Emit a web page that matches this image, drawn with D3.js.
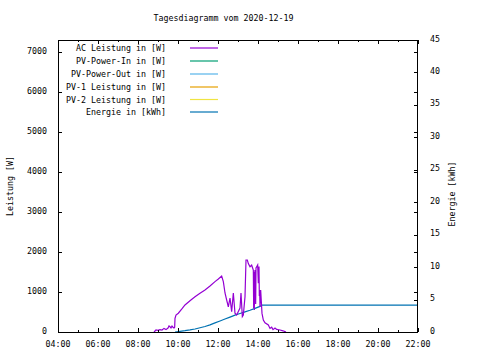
<!DOCTYPE html>
<html><head><meta charset="utf-8">
<script src="https://cdn.jsdelivr.net/npm/d3@7"></script>
<style>
html,body{margin:0;padding:0;background:#fff;}
svg{display:block;}
text{font-family:"DejaVu Sans Mono","Liberation Mono",monospace;font-size:8.3px;fill:#000;}
</style></head><body>
<svg id="chart" width="480" height="360"></svg>
<script>
const title = "Tagesdiagramm vom 2020-12-19";
const day = "2020-12-19";
const xTickLabels = ["04:00","06:00","08:00","10:00","12:00","14:00","16:00","18:00","20:00","22:00"];
const yTicksLeft = [0,1000,2000,3000,4000,5000,6000,7000];
const yTicksRight = [0,5,10,15,20,25,30,35,40,45];
const legendNames = ["AC Leistung in [W]","PV-Power-In in [W]","PV-Power-Out in [W]","PV-1 Leistung in [W]","PV-2 Leistung in [W]","Energie in [kWh]"];
const seriesColors = ["#9400d3","#009e73","#56b4e9","#e69f00","#f0e442","#0072b2"];

const acTimes = ["08:48","08:51","08:54","09:00","09:06","09:12","09:18","09:24","09:30","09:33","09:36","09:39","09:42","09:45","09:48","09:50","09:51","09:54","10:01","10:11","10:21","10:36","10:51","11:06","11:21","11:36","11:51","12:01","12:11","12:16","12:21","12:26","12:31","12:36","12:41","12:46","12:51","12:56","13:01","13:06","13:09","13:13","13:16","13:21","13:24","13:28","13:31","13:36","13:41","13:46","13:47","13:48","13:49","13:50","13:51","13:53","13:54","13:56","13:59","14:01","14:03","14:04","14:05","14:06","14:08","14:12","14:16","14:21","14:31","14:36","14:41","14:45","14:51","14:56","15:06","15:15","15:21","15:24"];
const acValues = [0,25,50,40,60,50,90,60,100,150,130,100,150,120,100,120,340,425,470,570,675,780,880,970,1050,1150,1260,1325,1400,1260,975,800,630,850,510,975,470,425,510,600,975,385,425,880,1800,1800,1710,1630,1670,1550,600,1500,550,1450,1550,700,1600,1630,1675,1220,1640,900,1050,630,1050,465,300,230,175,90,120,60,100,65,50,30,10,0];

const pvInTimes = ["08:48","15:24"];
const pvInValues = [0,0];
const pvOutTimes = ["08:48","15:24"];
const pvOutValues = [0,0];
const pv1Times = ["08:48","15:24"];
const pv1Values = [0,0];
const pv2Times = ["08:48","15:24"];
const pv2Values = [0,0];

const energyTimes = ["09:51","10:06","10:21","10:36","10:51","11:06","11:21","11:36","11:51","12:06","12:21","12:36","12:51","13:06","13:21","13:36","13:51","14:06","14:11","22:00"];
const energyValues = [0,0.1,0.2,0.32,0.46,0.65,0.85,1.1,1.4,1.7,2.0,2.3,2.6,2.85,3.1,3.35,3.65,3.95,4.15,4.15];

const parse = d3.timeParse("%Y-%m-%d %H:%M");
const toDate = s => parse(day + " " + s);

const svg = d3.select("#chart");
const L = 58, R = 418, T = 40, B = 332;

const x = d3.scaleTime().domain([toDate("04:00"), toDate("22:00")]).range([L, R]);
const yL = d3.scaleLinear().domain([0, 7300]).range([B, T]);
const yR = d3.scaleLinear().domain([0, 45]).range([B, T]);

// title
svg.append("text").attr("x", 223.5).attr("y", 21).attr("text-anchor", "middle").text(title);

// series
const mk = (times, vals) => times.map((t, i) => ({t: toDate(t), v: vals[i]}));
const lineL = d3.line().x(d => x(d.t)).y(d => yL(d.v));
const lineR = d3.line().x(d => x(d.t)).y(d => yR(d.v));
const plot = svg.append("g");
const leftSeries = [[pvInTimes,pvInValues,1],[pvOutTimes,pvOutValues,2],[pv1Times,pv1Values,3],[pv2Times,pv2Values,4]];
leftSeries.forEach(([ts, vs, ci]) => {
  plot.append("path").datum(mk(ts, vs)).attr("d", lineL).attr("fill","none")
    .attr("stroke", seriesColors[ci]).attr("stroke-width",1).attr("shape-rendering","crispEdges");
});
plot.append("path").datum(mk(energyTimes, energyValues)).attr("d", lineR).attr("fill","none")
  .attr("stroke", seriesColors[5]).attr("stroke-width",1.2);
plot.append("path").datum(mk(acTimes, acValues)).attr("d", lineL).attr("fill","none")
  .attr("stroke", seriesColors[0]).attr("stroke-width",1.2);

// frame
svg.append("rect").attr("x", L+0.5).attr("y", T+0.5).attr("width", R-L-1).attr("height", B-T)
  .attr("fill","none").attr("stroke","#000").attr("stroke-width",1).attr("shape-rendering","crispEdges");

const ax = svg.append("g").attr("stroke","#000").attr("stroke-width",1).attr("shape-rendering","crispEdges");
// x ticks: hourly, major every 2 h
const hours = d3.timeHour.range(toDate("04:00"), d3.timeMinute.offset(toDate("22:00"),1));
hours.forEach((h, i) => {
  const len = (i % 2 === 0) ? 4 : 2;
  const xx = Math.round(x(h)) + 0.5;
  ax.append("line").attr("x1", xx).attr("x2", xx).attr("y1", B).attr("y2", B - len);
  ax.append("line").attr("x1", xx).attr("x2", xx).attr("y1", T).attr("y2", T + len);
});
const fmt = d3.timeFormat("%H:%M");
xTickLabels.forEach(lbl => {
  svg.append("text").attr("x", x(toDate(lbl))).attr("y", 347).attr("text-anchor","middle").text(fmt(toDate(lbl)));
});
// left ticks (mirrored on right)
yTicksLeft.forEach(v => {
  const yy = Math.round(yL(v)) + 0.5;
  ax.append("line").attr("x1", L).attr("x2", L + 4).attr("y1", yy).attr("y2", yy);
  ax.append("line").attr("x1", R).attr("x2", R - 4).attr("y1", yy).attr("y2", yy);
  svg.append("text").attr("x", 47).attr("y", yL(v) + 1.5).attr("text-anchor","end").text(v);
});
yTicksRight.forEach(v => {
  const yy = Math.round(yR(v)) + 0.5;
  ax.append("line").attr("x1", R).attr("x2", R - 4).attr("y1", yy).attr("y2", yy);
  svg.append("text").attr("x", 430).attr("y", yR(v) + 1.5).attr("text-anchor","start").text(v);
});

// axis titles
svg.append("text").attr("transform","translate(13,186) rotate(-90)").attr("text-anchor","middle").text("Leistung [W]");
svg.append("text").attr("transform","translate(455,194) rotate(-90)").attr("text-anchor","middle").text("Energie [kWh]");

// legend
const legY = [48, 61, 74, 87, 99.5, 112];
legendNames.forEach((n, i) => {
  svg.append("text").attr("x", 166).attr("y", legY[i] + 3).attr("text-anchor","end").text(n);
  svg.append("line").attr("x1", 190).attr("x2", 218).attr("y1", legY[i]).attr("y2", legY[i])
    .attr("stroke", seriesColors[i]).attr("stroke-width",1.2);
});
</script>
</body></html>
